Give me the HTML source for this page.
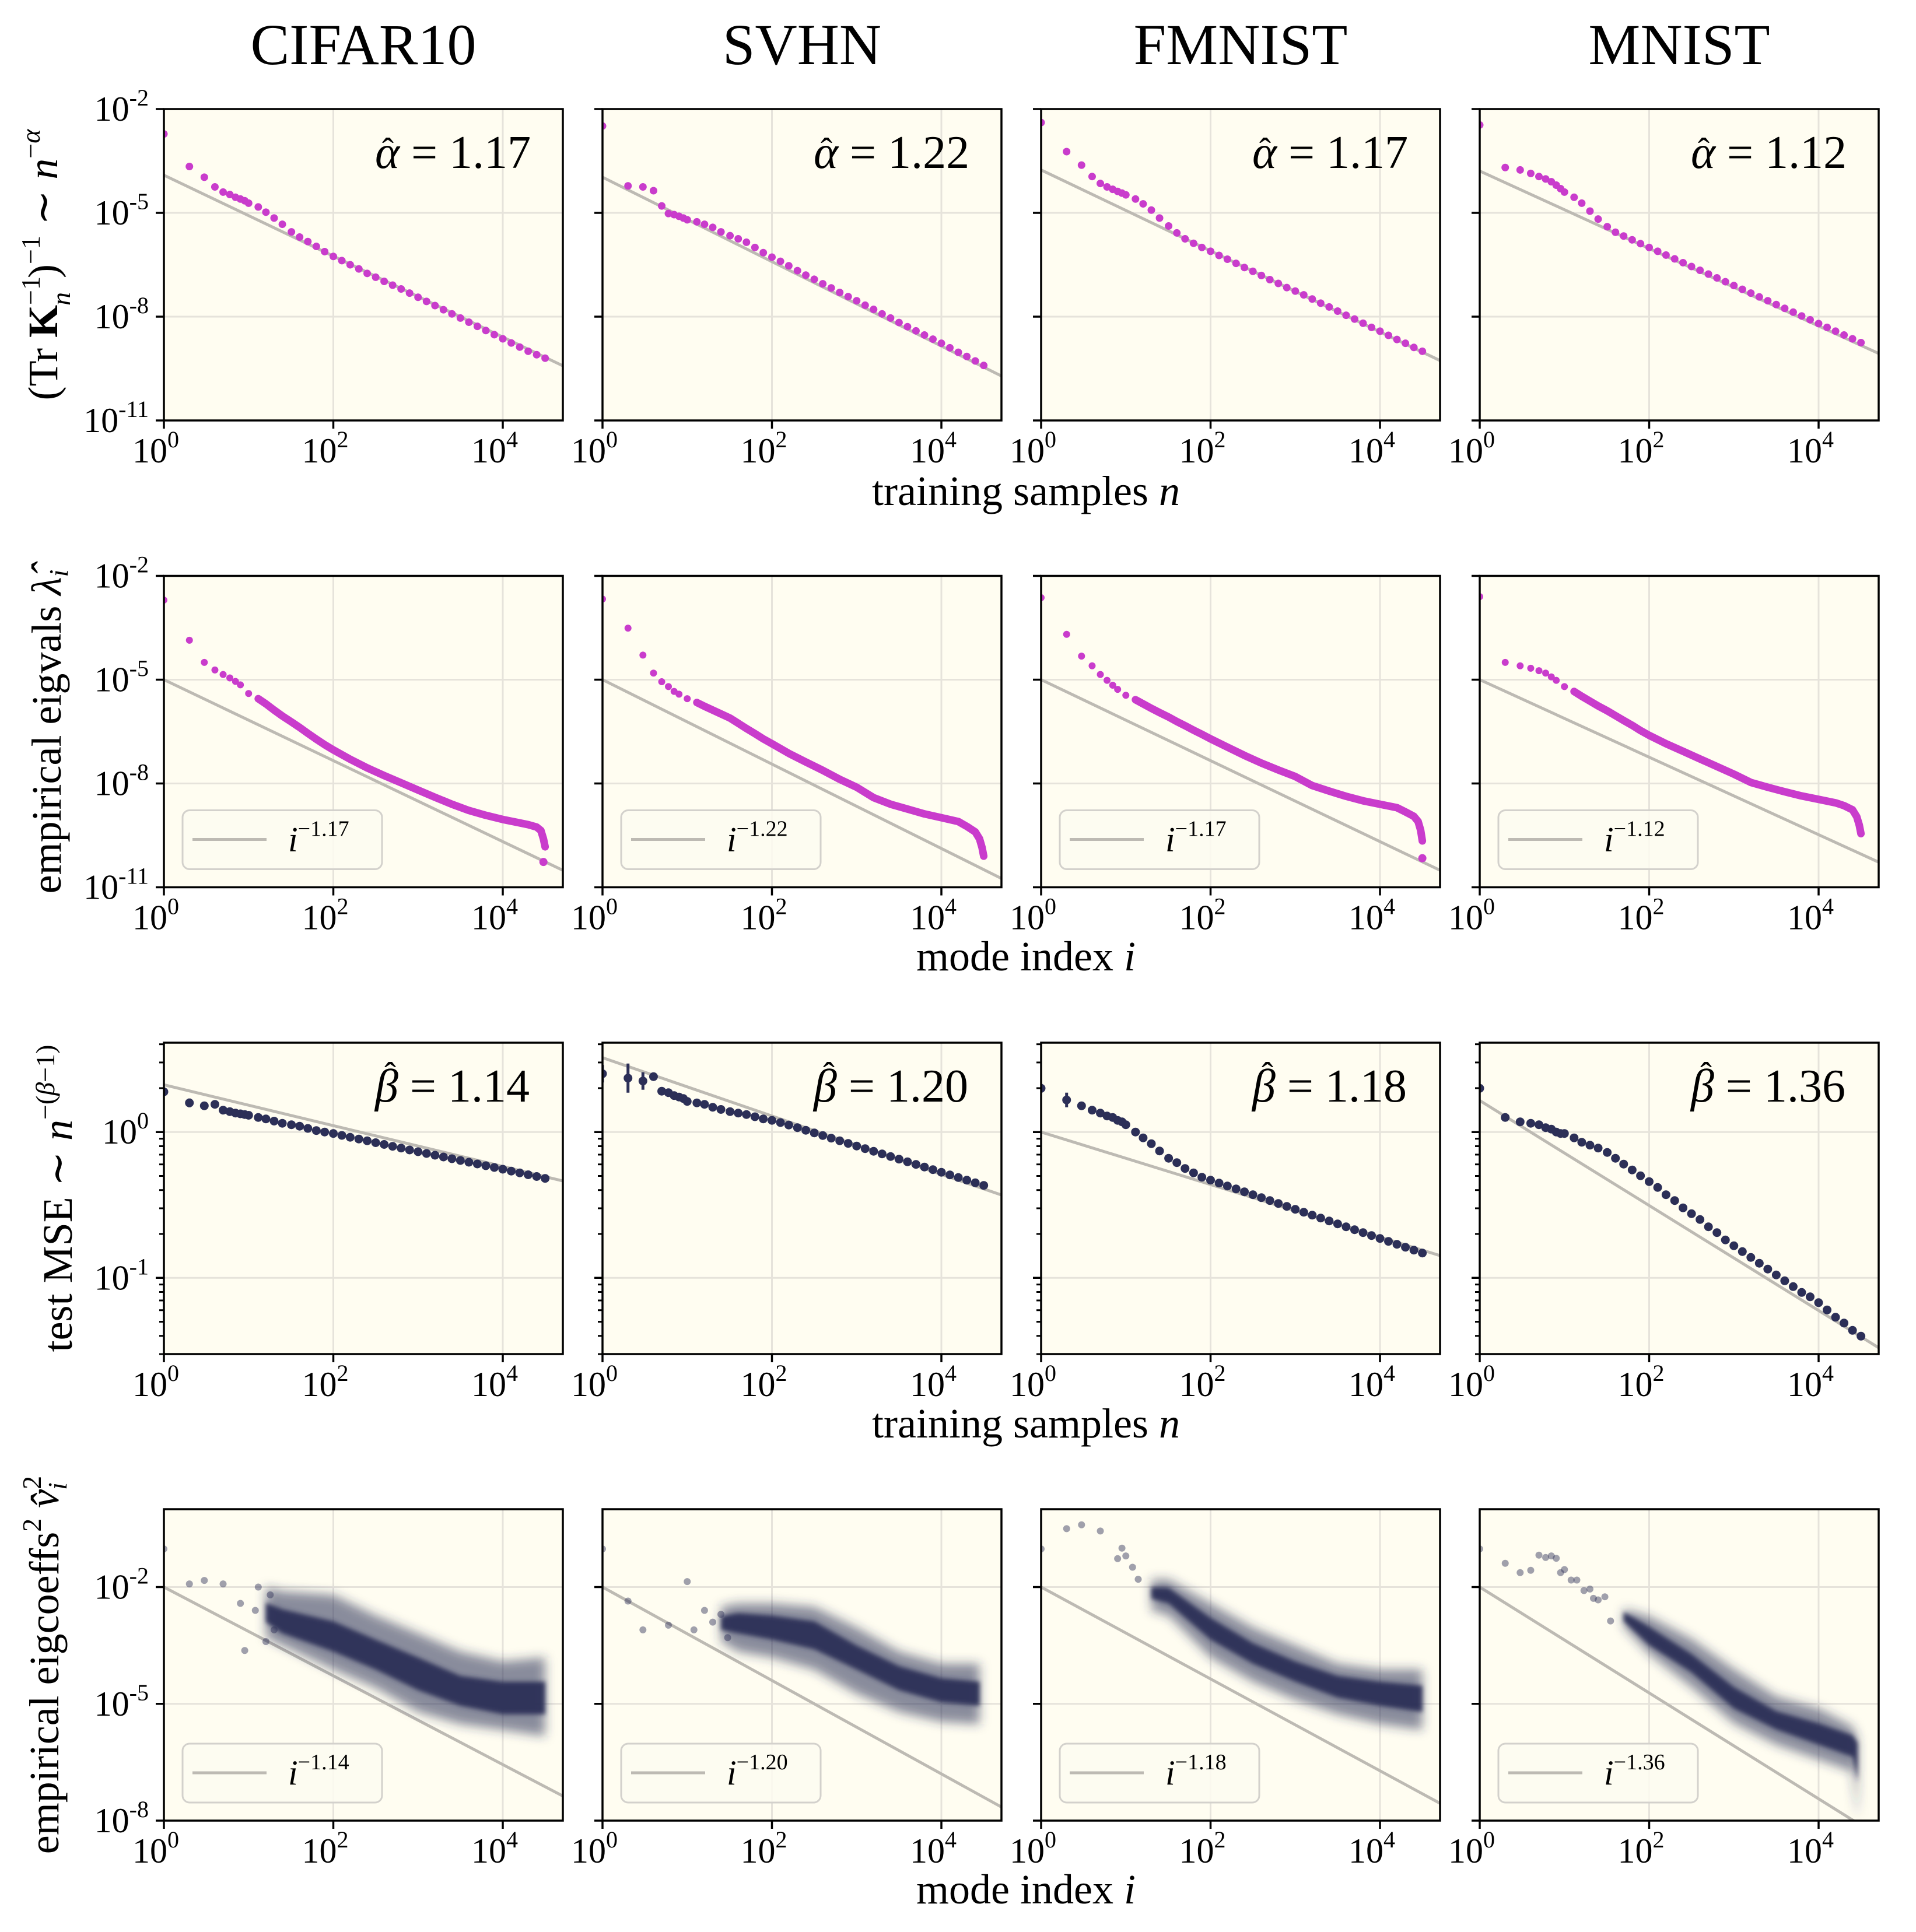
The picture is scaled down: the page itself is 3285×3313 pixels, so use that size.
<!DOCTYPE html>
<html><head><meta charset="utf-8"><title>Kernel spectra panels</title>
<style>
html,body{margin:0;padding:0;background:#fff;}
svg{display:block;font-family:"Liberation Serif","DejaVu Serif",serif;}
</style></head>
<body>
<svg id="fig" xmlns="http://www.w3.org/2000/svg" width="3285" height="3313" viewBox="0 0 3285 3313"></svg>
<script>
// ---------- data (y values are log10) ----------
const datasets = ["CIFAR10","SVHN","FMNIST","MNIST"];
const sampleN = [1,2,3,4,5,6,7,8,9,10,13,16,20,25,32,40,50,63,79,100,126,158,200,251,316,398,501,631,794,1000,1259,1585,1995,2512,3162,3981,5012,6310,7943,10000,12589,15849,19953,25119,31623];
const cifarTraceLog10 = [-2.72,-3.66,-3.97,-4.25,-4.40,-4.47,-4.55,-4.60,-4.65,-4.72,-4.83,-4.98,-5.15,-5.33,-5.55,-5.70,-5.83,-5.97,-6.12,-6.26,-6.38,-6.50,-6.62,-6.75,-6.86,-6.98,-7.09,-7.20,-7.32,-7.44,-7.56,-7.68,-7.80,-7.92,-8.04,-8.16,-8.28,-8.40,-8.52,-8.64,-8.76,-8.88,-9.00,-9.10,-9.20];
const svhnTraceLog10 = [-2.49,-4.22,-4.25,-4.36,-4.80,-5.02,-5.05,-5.10,-5.15,-5.20,-5.26,-5.33,-5.42,-5.55,-5.66,-5.75,-5.85,-6.00,-6.15,-6.28,-6.40,-6.53,-6.67,-6.80,-6.92,-7.05,-7.17,-7.30,-7.42,-7.54,-7.67,-7.79,-7.92,-8.04,-8.17,-8.29,-8.41,-8.53,-8.65,-8.77,-8.90,-9.03,-9.15,-9.28,-9.41];
const fmnistTraceLog10 = [-2.39,-3.23,-3.62,-3.95,-4.15,-4.25,-4.32,-4.38,-4.43,-4.48,-4.60,-4.74,-4.92,-5.15,-5.38,-5.58,-5.75,-5.88,-6.00,-6.11,-6.23,-6.34,-6.46,-6.58,-6.69,-6.81,-6.93,-7.04,-7.16,-7.26,-7.37,-7.49,-7.61,-7.72,-7.84,-7.96,-8.07,-8.19,-8.31,-8.42,-8.54,-8.66,-8.77,-8.89,-9.00];
const mnistTraceLog10 = [-2.46,-3.69,-3.76,-3.86,-3.95,-4.02,-4.10,-4.20,-4.30,-4.40,-4.55,-4.72,-4.95,-5.18,-5.40,-5.56,-5.67,-5.78,-5.89,-6.00,-6.11,-6.22,-6.33,-6.44,-6.55,-6.66,-6.77,-6.88,-6.99,-7.10,-7.21,-7.32,-7.43,-7.54,-7.65,-7.76,-7.87,-7.98,-8.09,-8.20,-8.31,-8.42,-8.53,-8.64,-8.75];
const alphaHat = [1.17,1.22,1.17,1.12];
const alphaLabels = ["1.17","1.22","1.17","1.12"];
const traceFitInterceptLog10 = [-3.91,-3.97,-3.76,-3.79];

const modeI = [1,2,3,4,5,6,7,8,10,13,16,20,25,32,40,50,63,79,100,158,251,398,631,1000,1585,2512,3981,6310,10000,15849,19953,25119,28184,30200,31623];
const cifarEigLog10 = [-2.70,-3.86,-4.50,-4.72,-4.85,-4.95,-5.05,-5.15,-5.40,-5.55,-5.70,-5.88,-6.05,-6.22,-6.38,-6.55,-6.72,-6.88,-7.03,-7.30,-7.55,-7.77,-7.98,-8.19,-8.40,-8.60,-8.78,-8.92,-9.04,-9.14,-9.19,-9.26,-9.36,-9.60,-9.83];
const svhnEigLog10 = [-2.67,-3.51,-4.29,-4.81,-5.06,-5.20,-5.34,-5.42,-5.55,-5.66,-5.77,-5.88,-5.99,-6.11,-6.26,-6.41,-6.56,-6.71,-6.85,-7.13,-7.38,-7.62,-7.88,-8.11,-8.41,-8.60,-8.74,-8.88,-8.99,-9.10,-9.24,-9.40,-9.60,-9.85,-10.10];
const fmnistEigLog10 = [-2.63,-3.69,-4.32,-4.60,-4.85,-5.02,-5.16,-5.28,-5.45,-5.58,-5.70,-5.83,-5.95,-6.08,-6.21,-6.33,-6.46,-6.58,-6.71,-6.95,-7.19,-7.41,-7.61,-7.80,-8.06,-8.22,-8.37,-8.50,-8.60,-8.70,-8.82,-8.95,-9.10,-9.35,-9.66];
const mnistEigLog10 = [-2.60,-4.50,-4.60,-4.67,-4.74,-4.81,-4.92,-5.02,-5.20,-5.34,-5.48,-5.62,-5.76,-5.90,-6.04,-6.18,-6.32,-6.47,-6.61,-6.85,-7.07,-7.29,-7.51,-7.73,-7.97,-8.11,-8.24,-8.36,-8.46,-8.56,-8.64,-8.76,-8.96,-9.20,-9.45];
const eigOutlierI = [30200,30200,31623,31623];
const eigOutlierLog10 = [-10.27,null,-10.16,null];
const eigFitInterceptLog10 = [-5,-5,-5,-5];

const cifarMseLog10 = [0.276,0.20,0.18,0.19,0.15,0.14,0.13,0.125,0.12,0.115,0.10,0.09,0.075,0.06,0.05,0.04,0.025,0.01,0,-0.01,-0.023,-0.036,-0.048,-0.06,-0.073,-0.085,-0.098,-0.11,-0.123,-0.135,-0.147,-0.159,-0.171,-0.183,-0.195,-0.207,-0.219,-0.231,-0.243,-0.255,-0.268,-0.28,-0.293,-0.305,-0.318];
const svhnMseLog10 = [0.40,0.37,0.35,0.38,0.28,0.27,0.25,0.24,0.23,0.21,0.20,0.19,0.17,0.155,0.14,0.13,0.12,0.105,0.09,0.08,0.065,0.048,0.03,0.012,-0.006,-0.024,-0.042,-0.06,-0.078,-0.096,-0.114,-0.132,-0.15,-0.168,-0.186,-0.204,-0.222,-0.24,-0.258,-0.276,-0.294,-0.312,-0.33,-0.348,-0.366];
const fmnistMseLog10 = [0.30,0.22,0.18,0.15,0.13,0.11,0.10,0.08,0.07,0.05,0,-0.04,-0.08,-0.13,-0.18,-0.21,-0.25,-0.28,-0.31,-0.33,-0.35,-0.37,-0.39,-0.41,-0.43,-0.45,-0.47,-0.49,-0.51,-0.53,-0.55,-0.57,-0.59,-0.61,-0.63,-0.65,-0.67,-0.69,-0.71,-0.73,-0.75,-0.77,-0.79,-0.81,-0.83];
const mnistMseLog10 = [0.30,0.10,0.07,0.06,0.05,0.03,0.02,0,-0.01,-0.01,-0.04,-0.07,-0.09,-0.11,-0.14,-0.18,-0.22,-0.26,-0.30,-0.34,-0.38,-0.43,-0.47,-0.52,-0.56,-0.60,-0.65,-0.69,-0.74,-0.78,-0.82,-0.86,-0.90,-0.94,-0.98,-1.02,-1.06,-1.10,-1.13,-1.17,-1.22,-1.27,-1.31,-1.36,-1.40];
const mseErrLog10 = [[0.02,0.03,0.02],[0.06,0.10,0.06],[0.03,0.05,0.02],[0.02,0.02,0.02]];
const betaHat = [1.14,1.20,1.18,1.36];
const betaLabels = ["1.14","1.20","1.18","1.36"];
const mseFitInterceptLog10 = [0.324,0.51,0.0,0.216];

const coefBandI = [[16,25,100,316,1000,3162,10000,31623],[25,40,100,316,1000,3162,10000,28184],[20,32,100,316,1000,3162,10000,31623],[50,100,316,1000,3162,10000,25119,28840]];
const coefOuterHiLog10 = [[-2.0,-2.11,-2.20,-2.73,-3.19,-3.66,-3.91,-3.81],[-2.5,-2.42,-2.42,-2.51,-3.04,-3.66,-3.97,-3.97],[-1.8,-1.8,-2.42,-3.04,-3.50,-3.97,-4.12,-4.12],[-2.56,-2.75,-3.33,-4.11,-4.81,-5.12,-5.58,-5.89]];
const coefCoreHiLog10 = [[-2.4,-2.57,-2.88,-3.35,-3.81,-4.28,-4.43,-4.43],[-2.75,-2.67,-2.73,-2.88,-3.50,-4.03,-4.34,-4.43],[-2.0,-2.02,-2.79,-3.44,-3.91,-4.28,-4.43,-4.53],[-2.64,-3.02,-3.72,-4.57,-5.19,-5.50,-5.81,-6.0]];
const coefCoreLoLog10 = [[-2.9,-3.19,-3.66,-4.12,-4.65,-5.05,-5.27,-5.27],[-3.1,-3.19,-3.35,-3.60,-4.12,-4.65,-4.96,-5.05],[-2.3,-2.42,-3.35,-3.97,-4.43,-4.84,-5.05,-5.21],[-2.87,-3.49,-4.19,-5.12,-5.66,-6.05,-6.36,-7.0]];
const coefOuterLoLog10 = [[-3.3,-3.50,-4.12,-4.59,-5.21,-5.52,-5.67,-5.83],[-3.4,-3.66,-3.81,-4.12,-4.74,-5.21,-5.46,-5.52],[-2.6,-2.73,-3.81,-4.43,-4.90,-5.27,-5.52,-5.67],[-3.02,-3.72,-4.57,-5.50,-6.05,-6.43,-6.74,-7.95]];
const coefOutlierI = [[1,2,3,5,8,9,12,13,16,18,20],[1,2,3,6,10,12,16,20,25,30],[1,2,3,5,8,9,10,12,14],[1,2,3,4,5,6,7,8,9,10,12,14,17,20,22,25,30,35]];
const coefOutlierLog10 = [[-1.02,-1.92,-1.83,-1.92,-2.42,-3.63,-2.6,-2.0,-3.4,-2.2,-3.1],[-1.02,-2.36,-3.1,-2.98,-1.86,-3.1,-2.6,-2.9,-2.7,-3.3],[-1.02,-0.50,-0.40,-0.56,-1.27,-1.0,-1.2,-1.49,-1.80],[-1.02,-1.39,-1.63,-1.57,-1.18,-1.24,-1.20,-1.26,-1.63,-1.55,-1.82,-1.82,-2.09,-2.05,-2.29,-2.33,-2.25,-2.87]];
const coefFitInterceptLog10 = [-2,-2,-2,-2];

const traceSeries = [cifarTraceLog10,svhnTraceLog10,fmnistTraceLog10,mnistTraceLog10];
const eigSeries = [cifarEigLog10,svhnEigLog10,fmnistEigLog10,mnistEigLog10];
const mseSeries = [cifarMseLog10,svhnMseLog10,fmnistMseLog10,mnistMseLog10];

// ---------- layout ----------
const NS = "http://www.w3.org/2000/svg";
const svg = document.getElementById("fig");
const colX = [281,1033,1785,2537];
const rowY = [187,987.5,1788,2588];
const PW = 684, PH = 534;
const XMAXLOG = 4.709;
const yTop = [-2,-2,Math.log10(4.1),0];
const yBot = [-11,-11,Math.log10(0.03),-8];
const MAG = "#c93ccc", NAVY = "#2c2f57", FIT = "#bdbab3", GRID = "#e6e3db", BG = "#fffdf1";

function xPos(c, v){ return colX[c] + Math.log10(v)/XMAXLOG*PW; }
function yPos(r, c, lg){ return rowY[r] + (yTop[r]-lg)/(yTop[r]-yBot[r])*PH; }
function mk(tag, attrs, parent){
  const e = document.createElementNS(NS, tag);
  for (const k in attrs) e.setAttribute(k, attrs[k]);
  (parent || svg).appendChild(e);
  return e;
}
function sup(t, parentText, txt, size, dy){
  const s = mk("tspan", {"font-size": size, dy: dy}, parentText);
  s.textContent = txt;
  return s;
}

const defs = mk("defs", {});
for (let r=0;r<4;r++) for (let c=0;c<4;c++){
  const cp = mk("clipPath", {id:"clip"+r+c}, defs);
  mk("rect", {x:colX[c], y:rowY[r], width:PW, height:PH}, cp);
}
const fo = mk("filter", {id:"blurOuter", x:"-20%", y:"-20%", width:"140%", height:"140%"}, defs);
mk("feGaussianBlur", {stdDeviation:9}, fo);
const fc = mk("filter", {id:"blurCore", x:"-20%", y:"-20%", width:"140%", height:"140%"}, defs);
mk("feGaussianBlur", {stdDeviation:4}, fc);

for (let c=0;c<4;c++){
  const t = mk("text", {x:colX[c]+PW/2, y:110, "text-anchor":"middle", "font-size":100, fill:"#000"});
  
  
  t.textContent = datasets[c];
}

const yTickSets = [[-2,-5,-8,-11],[-2,-5,-8,-11],[0,-1],[-2,-5,-8]];

for (let r=0;r<4;r++){
  for (let c=0;c<4;c++){
    const g = mk("g", {});
    
    
    const bg = mk("rect", {x:colX[c], y:rowY[r], width:PW, height:PH, fill:BG}, g);
    
    
    for (const e of [0,2,4]){
      const x = xPos(c, Math.pow(10,e));
      const gl = mk("line", {x1:x, x2:x, y1:rowY[r], y2:rowY[r]+PH, stroke:GRID, "stroke-width":3}, g);
      
      
    }
    for (const e of yTickSets[r]){
      const y = yPos(r, c, e);
      const gl = mk("line", {x1:colX[c], x2:colX[c]+PW, y1:y, y2:y, stroke:GRID, "stroke-width":3}, g);
      
      
    }
    const plot = mk("g", {"clip-path":"url(#clip"+r+c+")"}, g);
    
    

    let slope, icpt;
    if (r===0){ slope=alphaHat[c]; icpt=traceFitInterceptLog10[c]; }
    if (r===1){ slope=alphaHat[c]; icpt=eigFitInterceptLog10[c]; }
    if (r===2){ slope=betaHat[c]-1; icpt=mseFitInterceptLog10[c]; }
    if (r===3){ slope=betaHat[c]; icpt=coefFitInterceptLog10[c]; }
    const xEnd = Math.pow(10, XMAXLOG);
    const fl = mk("line", {x1:xPos(c,1), y1:yPos(r,c,icpt), x2:xPos(c,xEnd), y2:yPos(r,c,icpt - slope*XMAXLOG), stroke:FIT, "stroke-width":5}, plot);
    
    

    if (r===0){
      const s = traceSeries[c];
      for (let k=0;k<sampleN.length;k++){
        const d = mk("circle", {cx:xPos(c,sampleN[k]), cy:yPos(r,c,s[k]), r:6.5, fill:MAG}, plot);
        
        
      }
    }
    if (r===1){
      const s = eigSeries[c];
      let pts = [];
      for (let k=9;k<modeI.length;k++) pts.push(xPos(c,modeI[k]).toFixed(1)+","+yPos(r,c,s[k]).toFixed(1));
      const pl = mk("polyline", {points:pts.join(" "), fill:"none", stroke:MAG, "stroke-width":13, "stroke-linecap":"round", "stroke-linejoin":"round"}, plot);
      
      
      for (let k=0;k<modeI.length;k++){
        const d = mk("circle", {cx:xPos(c,modeI[k]), cy:yPos(r,c,s[k]), r:6, fill:MAG}, plot);
        
        
      }
      if (eigOutlierLog10[c] !== null){
        const d = mk("circle", {cx:xPos(c,eigOutlierI[c]), cy:yPos(r,c,eigOutlierLog10[c]), r:7, fill:MAG}, plot);
        
        
      }
    }
    if (r===2){
      const s = mseSeries[c];
      for (let k=0;k<mseErrLog10[c].length;k++){
        const x = xPos(c,sampleN[k]);
        const eb = mk("line", {x1:x, x2:x, y1:yPos(r,c,s[k]+mseErrLog10[c][k]), y2:yPos(r,c,s[k]-mseErrLog10[c][k]), stroke:NAVY, "stroke-width":5}, plot);
        
        
      }
      for (let k=0;k<sampleN.length;k++){
        const d = mk("circle", {cx:xPos(c,sampleN[k]), cy:yPos(r,c,s[k]), r:7.5, fill:NAVY}, plot);
        
        
      }
    }
    if (r===3){
      const bi = coefBandI[c];
      function band(hi, lo){
        const a = [];
        for (let k=0;k<bi.length;k++) a.push(xPos(c,bi[k]).toFixed(1)+","+yPos(r,c,hi[k]).toFixed(1));
        for (let k=bi.length-1;k>=0;k--) a.push(xPos(c,bi[k]).toFixed(1)+","+yPos(r,c,lo[k]).toFixed(1));
        return a.join(" ");
      }
      const ob = mk("polygon", {points:band(coefOuterHiLog10[c], coefOuterLoLog10[c]), fill:NAVY, "fill-opacity":0.55, filter:"url(#blurOuter)"}, plot);
      
      
      const cb = mk("polygon", {points:band(coefCoreHiLog10[c], coefCoreLoLog10[c]), fill:NAVY, "fill-opacity":0.95, filter:"url(#blurCore)"}, plot);
      
      
      for (let k=0;k<coefOutlierI[c].length;k++){
        const d = mk("circle", {cx:xPos(c,coefOutlierI[c][k]), cy:yPos(r,c,coefOutlierLog10[c][k]), r:6, fill:NAVY, "fill-opacity":0.45}, plot);
        
        
      }
    }

    const sp = mk("rect", {x:colX[c], y:rowY[r], width:PW, height:PH, fill:"none", stroke:"#000", "stroke-width":3.5}, g);
    
    

    for (const e of [0,2,4]){
      const x = xPos(c, Math.pow(10,e));
      const tk = mk("line", {x1:x, x2:x, y1:rowY[r]+PH, y2:rowY[r]+PH+14, stroke:"#000", "stroke-width":3.5}, g);
      
      
      const tl = mk("text", {x:x-14, y:rowY[r]+PH+72, "text-anchor":"middle", "font-size":60}, g);
      
      
      tl.textContent = "10";
      sup(null, tl, String(e), 40, -26);
    }
    for (const e of yTickSets[r]){
      const y = yPos(r, c, e);
      const tk = mk("line", {x1:colX[c]-14, x2:colX[c], y1:y, y2:y, stroke:"#000", "stroke-width":3.5}, g);
      
      
      if (c===0){
        const tl = mk("text", {x:colX[c]-26, y:y+20, "text-anchor":"end", "font-size":60}, g);
        
        
        tl.textContent = "10";
        sup(null, tl, (e<0?"-":"")+Math.abs(e), 40, -26);
      }
    }
    if (r===2){
      for (const dec of [-2,-1,0]){
        for (let m=2;m<=9;m++){
          const lg = dec + Math.log10(m);
          if (lg > yTop[2]+0.001 || lg < yBot[2]-0.001) continue;
          const y = yPos(r,c,lg);
          const mt = mk("line", {x1:colX[c]-8, x2:colX[c], y1:y, y2:y, stroke:"#000", "stroke-width":3}, g);
          
          
        }
      }
    }

    if (r===0 || r===2){
      const ax = colX[c]+362, ay = rowY[r]+101;
      const at = mk("text", {x:ax, y:ay, "font-size":80}, g);
      
      
      const sym = mk("tspan", {"font-style":"italic"}, at);
      sym.textContent = r===0 ? "α" : "β";
      const rest = mk("tspan", {}, at);
      rest.textContent = " = " + (r===0 ? alphaLabels[c] : betaLabels[c]);
      const hat = mk("text", {x:ax+(r===0?22:26), y:ay-(r===0?10:26), "font-size":60, "text-anchor":"middle"}, g);
      
      
      hat.textContent = "ˆ";
    }
    if (r===1 || r===3){
      const lg = mk("g", {}, g);
      
      
      const box = mk("rect", {x:colX[c]+32, y:rowY[r]+402, width:342, height:101, rx:12, fill:"#fdfbf1", "fill-opacity":0.85, stroke:"#d3d1cc", "stroke-width":3}, lg);
      
      
      const ll = mk("line", {x1:colX[c]+49, x2:colX[c]+176, y1:rowY[r]+452, y2:rowY[r]+452, stroke:FIT, "stroke-width":5}, lg);
      
      
      const lt = mk("text", {x:colX[c]+213, y:rowY[r]+472, "font-size":60}, lg);
      
      
      const iv = mk("tspan", {"font-style":"italic"}, lt);
      iv.textContent = "i";
      sup(null, lt, "−" + (r===1 ? alphaLabels[c] : betaLabels[c]), 38, -26);
    }
  }
}

const xl = [["training samples ","n",866],["mode index ","i",1664],["training samples ","n",2465],["mode index ","i",3264]];
for (let r=0;r<4;r++){
  const t = mk("text", {x:1759, y:xl[r][2], "text-anchor":"middle", "font-size":72});
  
  
  const a = mk("tspan", {}, t); a.textContent = xl[r][0];
  const b = mk("tspan", {"font-style":"italic"}, t); b.textContent = xl[r][1];
}

function ylab(r, bx, builder){
  const cy = rowY[r]+PH/2;
  const t = mk("text", {x:0, y:0, "text-anchor":"middle", "font-size":72, transform:"translate("+bx+","+cy+") rotate(-90)"});
  
  
  builder(t);
}
function ts(t, txt, attrs){ const s = mk("tspan", attrs||{}, t); s.textContent = txt; return s; }
ylab(0, 98, t => {
  ts(t, "(Tr ");
  ts(t, "K", {"font-weight":"bold"});
  ts(t, "−1", {"font-size":46, dy:-30});
  ts(t, "n", {"font-size":46, "font-style":"italic", dy:52, dx:-50});
  ts(t, ")", {dy:-22, dx:24});
  ts(t, "−1", {"font-size":46, dy:-30});
  ts(t, " ∼ ", {dy:30});
  ts(t, "n", {"font-style":"italic"});
  ts(t, "−", {"font-size":46, dy:-30});
  ts(t, "α", {"font-size":46, "font-style":"italic"});
});
ylab(1, 104, t => {
  ts(t, "empirical eigvals ");
  ts(t, "λ̂", {"font-style":"italic"});
  ts(t, "i", {"font-size":46, "font-style":"italic", dy:12});
});
ylab(2, 123, t => {
  ts(t, "test MSE ∼ ");
  ts(t, "n", {"font-style":"italic"});
  ts(t, "−(", {"font-size":46, dy:-30});
  ts(t, "β", {"font-size":46, "font-style":"italic"});
  ts(t, "−1)", {"font-size":46});
});
ylab(3, 100, t => {
  ts(t, "empirical eigcoeffs");
  ts(t, "2", {"font-size":46, dy:-30});
  ts(t, " ", {dy:30});
  ts(t, "v̂", {"font-style":"italic"});
  ts(t, "2", {"font-size":46, dy:-30});
  ts(t, "i", {"font-size":46, "font-style":"italic", dy:44, dx:-24});
});
</script>
</body></html>
